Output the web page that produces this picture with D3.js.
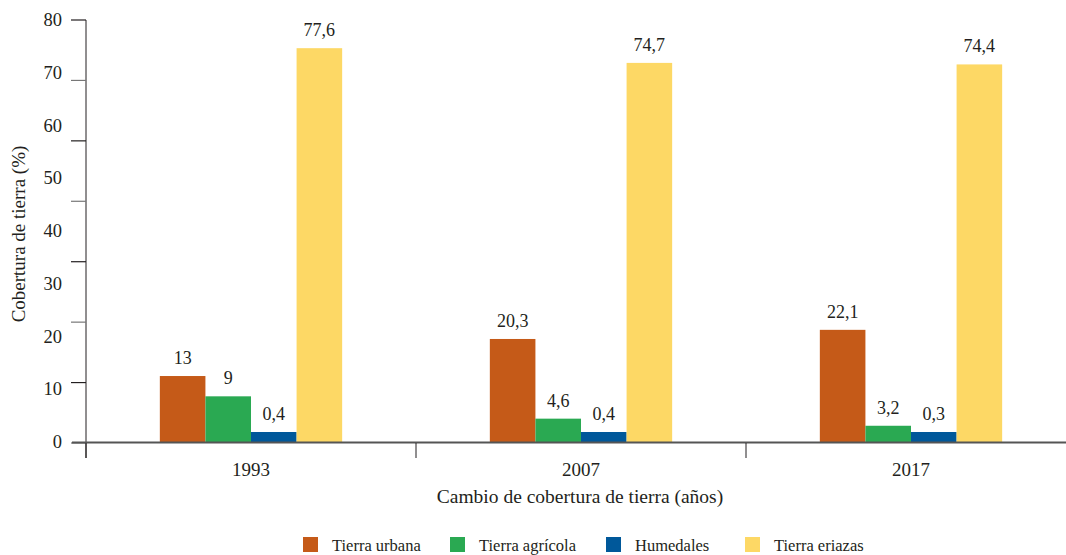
<!DOCTYPE html>
<html lang="es">
<head>
<meta charset="UTF-8">
<script src="https://d3js.org/d3.v7.min.js"></script>
<title>Cobertura de tierra</title>
<style>
  body { margin: 0; background: #fff; }
</style>
</head>
<body>
<div id="chart"></div>
<script>
// data
const years = ["1993", "2007", "2017"];
const series = ["Tierra urbana", "Tierra agrícola", "Humedales", "Tierra eriazas"];
const urbana = [13, 20.3, 22.1];
const agricola = [9, 4.6, 3.2];
const humedales = [0.4, 0.4, 0.3];
const eriazas = [77.6, 74.7, 74.4];
const yTickLabels = [0, 10, 20, 30, 40, 50, 60, 70, 80];
const colors = ["#c55a18", "#2aa952", "#00589a", "#fdd865"];

const width = 1066, height = 555;
const svg = d3.select("#chart").append("svg").attr("width", width).attr("height", height)
  .style("font-family", "'Liberation Serif', 'DejaVu Serif', serif")
  .attr("fill", "#231f20");

const zeroY = 442;
// scale for the bars
const y = d3.scaleLinear().domain([0, 80]).range([zeroY, 36]);
// scale for the axis labels (they are spread a bit differently in the original)
const yLab = d3.scaleLinear().domain([0, 80]).range([zeroY, 20]);
// tick marks on the axis line
const yMark = d3.scaleLinear().domain([0, 70]).range([443, 20]);

const x = d3.scaleBand().domain(years).range([86, 1076]);
const x1 = d3.scaleBand().domain(series).range([0, x.bandwidth()]).paddingOuter(1.62);

const rows = years.map((yr, i) => ({
  year: yr,
  vals: [urbana[i], agricola[i], humedales[i], eriazas[i]]
}));

// bars
const g = svg.selectAll(".grp").data(rows).enter().append("g")
  .attr("transform", d => `translate(${x(d.year)},0)`);

const fmt = v => String(v).replace(".", ",");
const barTop = v => Math.min(y(v), zeroY - 10);

g.selectAll("rect").data(d => d.vals.map((v, j) => ({ key: series[j], v: v, c: colors[j] })))
  .enter().append("rect")
  .attr("x", d => x1(d.key))
  .attr("width", x1.bandwidth())
  .attr("y", d => barTop(d.v))
  .attr("height", d => zeroY - barTop(d.v))
  .attr("fill", d => d.c);

g.selectAll("text.val").data(d => d.vals.map((v, j) => ({ key: series[j], v: v })))
  .enter().append("text")
  .attr("class", "val")
  .attr("x", d => x1(d.key) + x1.bandwidth() / 2)
  .attr("y", d => barTop(d.v) - 12)
  .attr("text-anchor", "middle")
  .attr("font-size", 18)
  .text(d => fmt(d.v));

// y axis
svg.append("line").attr("x1", 86).attr("x2", 86).attr("y1", 20).attr("y2", 458)
  .attr("stroke", "#231f20").attr("stroke-width", 1);
svg.selectAll(".ymark").data(d3.range(0, 71, 10)).enter().append("line")
  .attr("x1", 71).attr("x2", 86)
  .attr("y1", d => yMark(d)).attr("y2", d => yMark(d))
  .attr("stroke", (d, i) => i % 2 ? "#231f20" : "#777").attr("stroke-width", 1.2);
svg.selectAll(".ylab").data(yTickLabels).enter().append("text")
  .attr("x", 62).attr("y", d => yLab(d) + 6)
  .attr("text-anchor", "end")
  .attr("font-size", 18.5)
  .text(d => d);

// x axis
svg.append("line").attr("x1", 72).attr("x2", width).attr("y1", 442.5).attr("y2", 442.5)
  .attr("stroke", "#555").attr("stroke-width", 2);
svg.selectAll(".xmark").data(years).enter().append("line")
  .attr("x1", d => x(d)).attr("x2", d => x(d))
  .attr("y1", 443).attr("y2", 458)
  .attr("stroke", "#231f20");
svg.selectAll(".xlab").data(years).enter().append("text")
  .attr("x", d => x(d) + x.bandwidth() / 2).attr("y", 476)
  .attr("text-anchor", "middle")
  .attr("font-size", 19)
  .text(d => d);

// axis titles
svg.append("text").attr("x", 580).attr("y", 503).attr("text-anchor", "middle")
  .attr("font-size", 19.5).text("Cambio de cobertura de tierra (años)");
svg.append("text").attr("transform", "translate(25,234) rotate(-90)").attr("text-anchor", "middle")
  .attr("font-size", 19).text("Cobertura de tierra (%)");

// legend
const legX = [303, 450, 606, 745];
const leg = svg.selectAll(".leg").data(series).enter().append("g")
  .attr("transform", (d, i) => `translate(${legX[i]},537)`);
leg.append("rect").attr("width", 15).attr("height", 15).attr("fill", (d, i) => colors[i]);
leg.append("text").attr("x", 29).attr("y", 13.5).attr("font-size", 16.5).text(d => d);
</script>
</body>
</html>
